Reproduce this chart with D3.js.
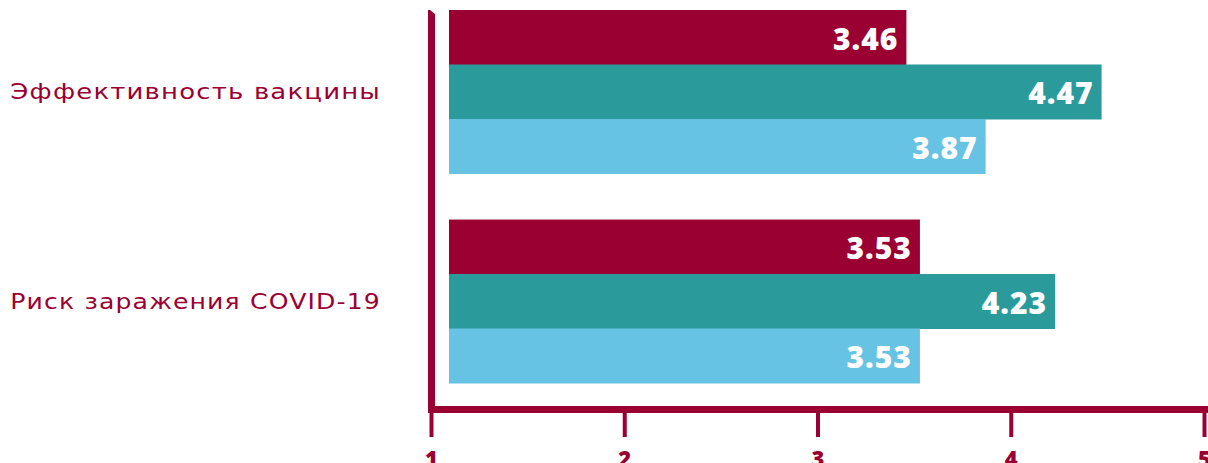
<!DOCTYPE html>
<html><head><meta charset="utf-8">
<script src="https://cdn.jsdelivr.net/npm/d3@7"></script>
<style>body{margin:0;background:#fff;}svg{display:block;}</style>
</head><body>
<svg id="c" width="1208" height="463"></svg>
<script>
const categories = ["Эффективность вакцины", "Риск заражения COVID-19"];
const seriesNames = ["s1", "s2", "s3"];
const series1 = [3.46, 3.53];
const series2 = [4.47, 4.23];
const series3 = [3.87, 3.53];
const tickValues = [1, 2, 3, 4, 5];
const colors = ["#9b0032", "#2a9a9b", "#67c3e4"];

const svg = d3.select("#c");
const crimson = "#9b0032";
const x = d3.scaleLinear().domain([1, 5]).range([431, 1204]);
const gH = 166;
const y0b = d3.scaleBand().domain(categories).range([10, 383]).paddingInner((383-10-2*gH)/((383-10)/2)).paddingOuter(0);
const y1 = d3.scaleBand().domain(seriesNames).range([0, y0b.bandwidth()]);

const data = [];
categories.forEach((c, i) => {
  [series1, series2, series3].forEach((s, j) => data.push({cat: c, ser: seriesNames[j], v: s[i], color: colors[j]}));
});
const barStart = x(1) + 18;

svg.selectAll("rect.bar").data(data).enter().append("rect")
  .attr("class", "bar")
  .attr("x", barStart)
  .attr("y", d => y0b(d.cat) + y1(d.ser))
  .attr("width", d => x(d.v) - barStart)
  .attr("height", y1.bandwidth() + 0.5)
  .attr("fill", d => d.color);

svg.selectAll("text.val").data(data).enter().append("text")
  .attr("class", "val")
  .attr("x", d => x(d.v) - 8)
  .attr("y", d => y0b(d.cat) + y1(d.ser) + y1.bandwidth() / 2 + 1)
  .attr("text-anchor", "end")
  .attr("dominant-baseline", "central")
  .attr("fill", "#fff")
  .style("font-family", "'Open Sans', sans-serif")
  .style("font-weight", 800)
  .style("font-size", "30px")
  .style("letter-spacing", "1px")
  .text(d => d.v.toFixed(2));

const cats = svg.selectAll("text.cat").data(categories).enter().append("text")
  .attr("class", "cat")
  .attr("text-anchor", "end")
  .attr("dominant-baseline", "central")
  .attr("fill", crimson)
  .style("font-family", "'DejaVu Sans', sans-serif")
  .style("font-size", "22px")
  .style("letter-spacing", "1px")
  .text(d => d);
// fit width of each label to reference span (10..381) with a horizontal stretch
cats.each(function(d) {
  const w = this.getComputedTextLength();
  const k = 371 / w;
  d3.select(this).attr("transform", `translate(381,${y0b(d) + y0b.bandwidth() / 2}) scale(${k},1)`);
});

// vertical axis line
svg.append("path")
  .attr("d", `M428,10 L430,10 L435,14 L435,413 L428,413 Z`)
  .attr("fill", crimson);

// x axis
const axis = d3.axisBottom(x).tickValues(tickValues).tickSize(27).tickPadding(14).tickFormat(d3.format("d"));
const ax = svg.append("g").attr("transform", "translate(0,410)").call(axis);
ax.select(".domain").remove();
ax.selectAll(".tick line").attr("stroke", crimson).attr("stroke-width", 4);
ax.selectAll(".tick text").attr("fill", crimson)
  .style("font-family", "'Open Sans', sans-serif")
  .style("font-weight", 800).style("font-size", "22px");
svg.append("rect").attr("x", 428).attr("y", 406).attr("width", 1208 - 428).attr("height", 7).attr("fill", crimson);
</script>
</body></html>
